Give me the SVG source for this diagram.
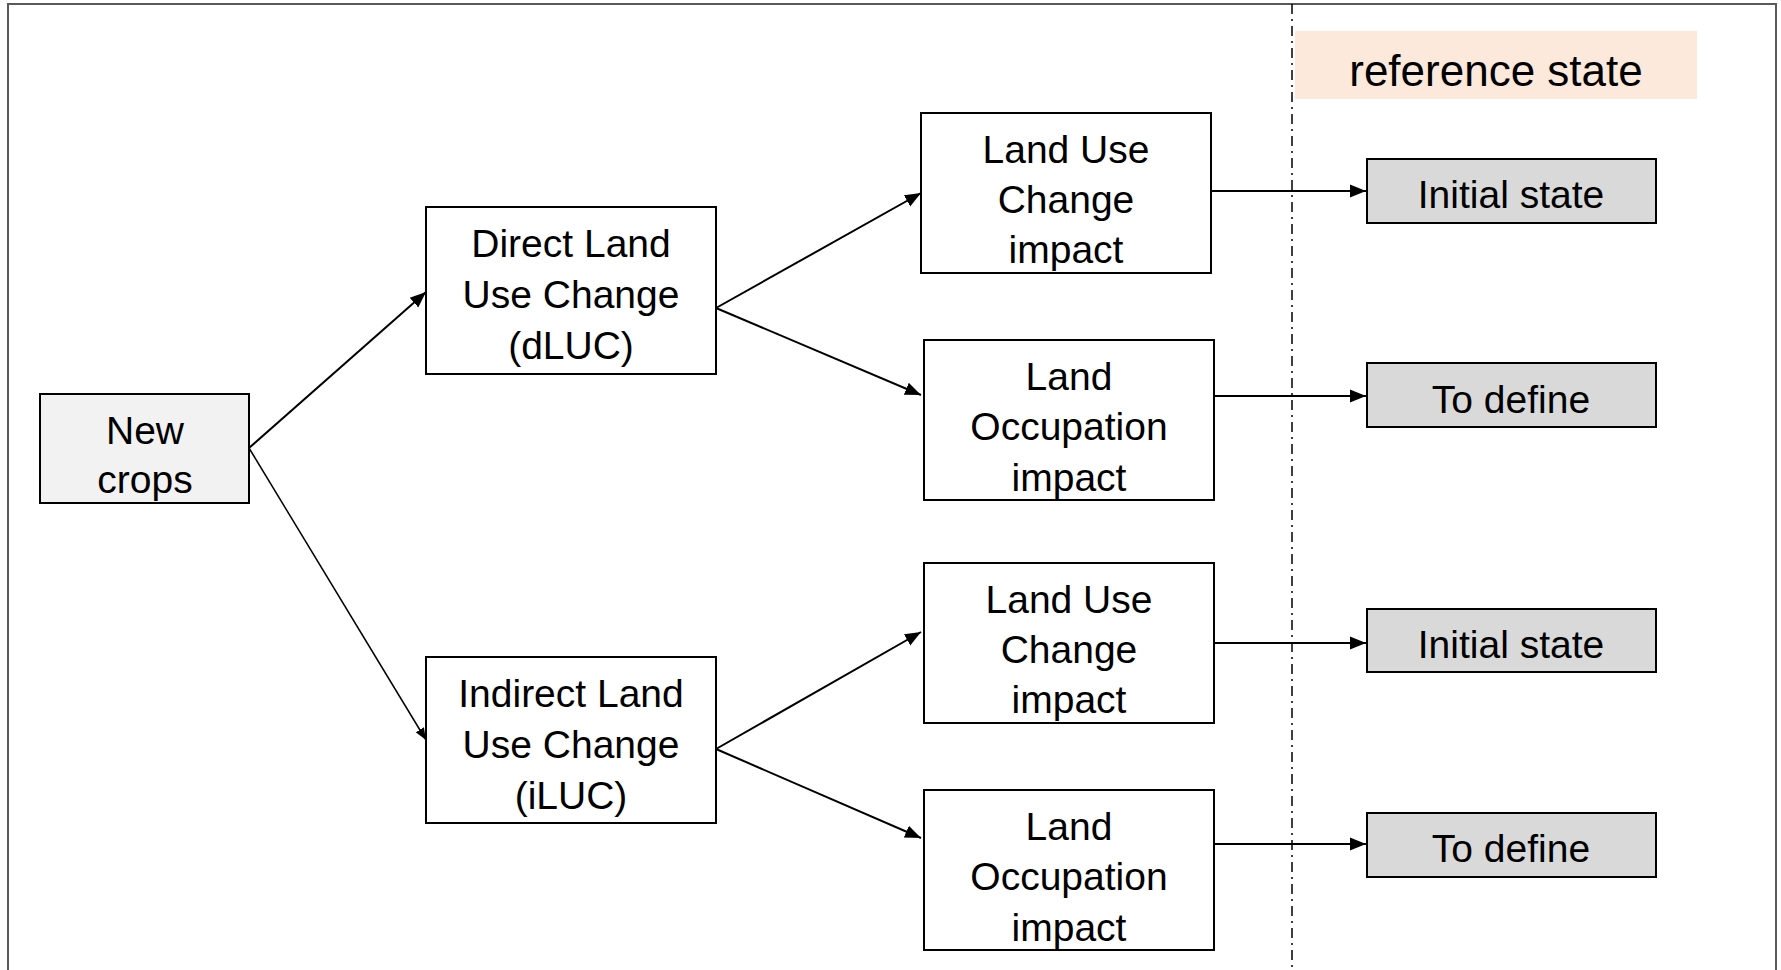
<svg xmlns="http://www.w3.org/2000/svg" width="1781" height="970" viewBox="0 0 1781 970">
  <style>
    .box { stroke: #000; stroke-width: 2; }
    .plain { fill: #fff; }
    .light { fill: #f2f2f2; }
    .grey { fill: #d9d9d9; }
    .lbl { font-family: "Liberation Sans", Arial, sans-serif; font-size: 39px; fill: #000; text-anchor: middle; }
    .conn { stroke: #000; stroke-width: 2; fill: none; marker-end: url(#arrow); }
  </style>
  <defs>
    <marker id="arrow" viewBox="0 0 10 10" refX="10" refY="5" markerWidth="8" markerHeight="8" markerUnits="strokeWidth" orient="auto">
      <path d="M0,1 L10,5 L0,9 z" fill="#000"/>
    </marker>
  </defs>

  <rect x="0" y="0" width="1781" height="970" fill="#fff"/>
  <!-- outer frame -->
  <rect x="8" y="4" width="1768" height="980" fill="none" stroke="#595959" stroke-width="2"/>

  <!-- separator for the reference-state column -->
  <line x1="1292" y1="4" x2="1292" y2="970" stroke="#000" stroke-width="1.5" stroke-dasharray="10 5 2 5"/>

  <g id="reference-state">
    <rect x="1295" y="31" width="402" height="68" fill="#fce9db"/>
    <text x="1496" y="86" class="lbl" style="font-size:44px">reference state</text>
  </g>

  <g id="connectors">
    <line class="conn" x1="249" y1="448" x2="426" y2="292"/>
    <line class="conn" x1="249" y1="448" x2="426" y2="740" style="stroke-width:1.5"/>
    <line class="conn" x1="716" y1="308" x2="921" y2="193"/>
    <line class="conn" x1="716" y1="308" x2="921" y2="395"/>
    <line class="conn" x1="716" y1="749" x2="921" y2="632"/>
    <line class="conn" x1="716" y1="749" x2="921" y2="838"/>
    <line class="conn" x1="1211" y1="191" x2="1366" y2="191"/>
    <line class="conn" x1="1214" y1="396" x2="1366" y2="396"/>
    <line class="conn" x1="1214" y1="643" x2="1366" y2="643"/>
    <line class="conn" x1="1214" y1="844" x2="1366" y2="844"/>
  </g>

  <g id="new-crops">
    <rect class="box light" x="40" y="394" width="209" height="109"/>
    <text class="lbl" x="145" y="444">New</text>
    <text class="lbl" x="145" y="493">crops</text>
  </g>

  <g id="dluc">
    <rect class="box plain" x="426" y="207" width="290" height="167"/>
    <text class="lbl" x="571" y="257">Direct Land</text>
    <text class="lbl" x="571" y="308">Use Change</text>
    <text class="lbl" x="571" y="359">(dLUC)</text>
  </g>

  <g id="iluc">
    <rect class="box plain" x="426" y="657" width="290" height="166"/>
    <text class="lbl" x="571" y="707">Indirect Land</text>
    <text class="lbl" x="571" y="758">Use Change</text>
    <text class="lbl" x="571" y="809">(iLUC)</text>
  </g>

  <g id="luc-impact-d">
    <rect class="box plain" x="921" y="113" width="290" height="160"/>
    <text class="lbl" x="1066" y="163">Land Use</text>
    <text class="lbl" x="1066" y="213">Change</text>
    <text class="lbl" x="1066" y="263">impact</text>
  </g>

  <g id="lo-impact-d">
    <rect class="box plain" x="924" y="340" width="290" height="160"/>
    <text class="lbl" x="1069" y="390">Land</text>
    <text class="lbl" x="1069" y="440">Occupation</text>
    <text class="lbl" x="1069" y="491">impact</text>
  </g>

  <g id="luc-impact-i">
    <rect class="box plain" x="924" y="563" width="290" height="160"/>
    <text class="lbl" x="1069" y="613">Land Use</text>
    <text class="lbl" x="1069" y="663">Change</text>
    <text class="lbl" x="1069" y="713">impact</text>
  </g>

  <g id="lo-impact-i">
    <rect class="box plain" x="924" y="790" width="290" height="160"/>
    <text class="lbl" x="1069" y="840">Land</text>
    <text class="lbl" x="1069" y="890">Occupation</text>
    <text class="lbl" x="1069" y="941">impact</text>
  </g>

  <g id="initial-state-d">
    <rect class="box grey" x="1367" y="159" width="289" height="64"/>
    <text class="lbl" x="1511" y="208">Initial state</text>
  </g>

  <g id="to-define-d">
    <rect class="box grey" x="1367" y="363" width="289" height="64"/>
    <text class="lbl" x="1511" y="413">To define</text>
  </g>

  <g id="initial-state-i">
    <rect class="box grey" x="1367" y="609" width="289" height="63"/>
    <text class="lbl" x="1511" y="658">Initial state</text>
  </g>

  <g id="to-define-i">
    <rect class="box grey" x="1367" y="813" width="289" height="64"/>
    <text class="lbl" x="1511" y="862">To define</text>
  </g>
</svg>
